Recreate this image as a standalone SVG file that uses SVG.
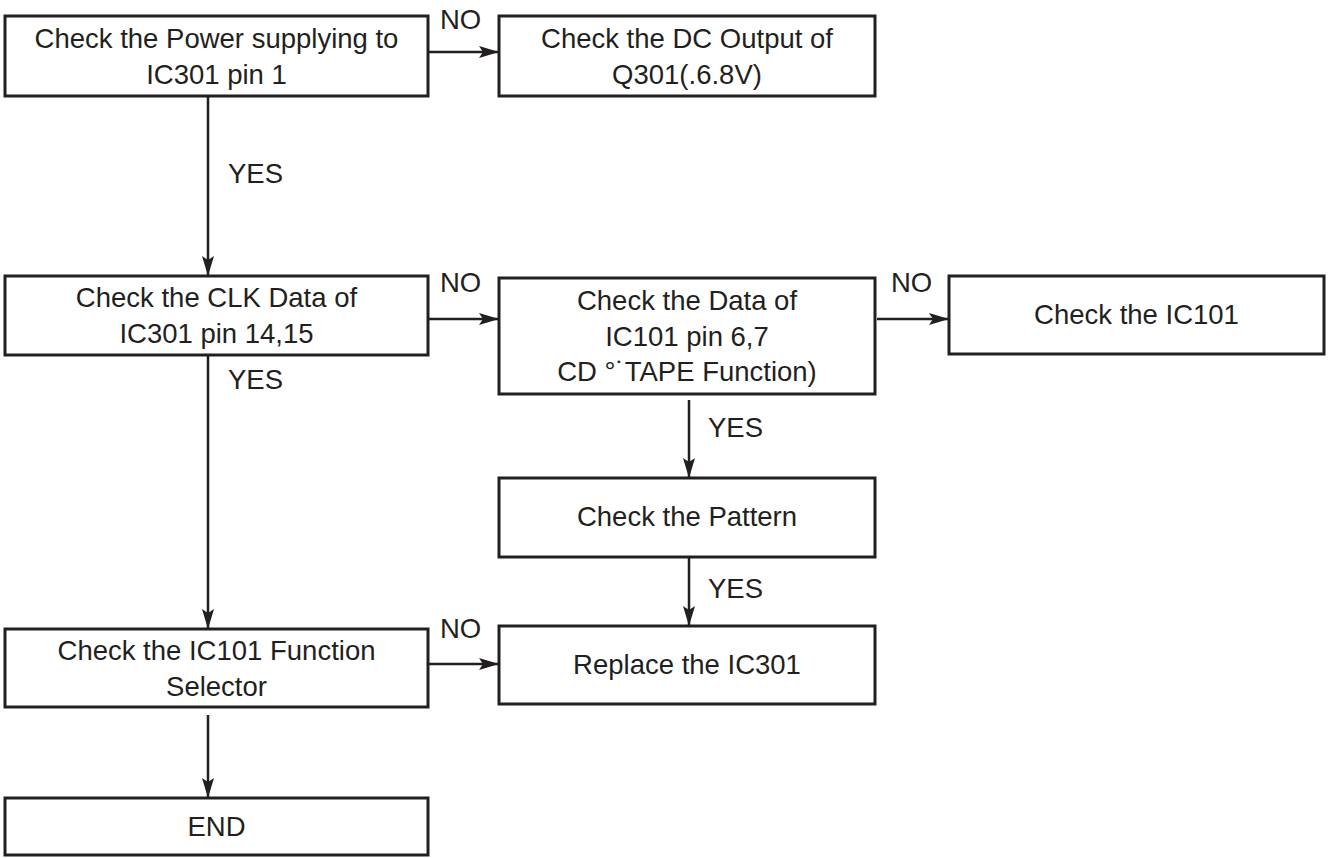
<svg xmlns="http://www.w3.org/2000/svg" width="1328" height="858" viewBox="0 0 1328 858">
<style>
.box{fill:#fff;stroke:#231f20;stroke-width:3}
.t{font-family:"Liberation Sans",Arial,sans-serif;font-size:27.5px;fill:#231f20;text-anchor:middle}
.l{font-family:"Liberation Sans",Arial,sans-serif;font-size:27.5px;fill:#231f20}
.c{stroke:#231f20;stroke-width:2.5;fill:none;marker-end:url(#ah)}
</style>
<defs>
<marker id="ah" viewBox="0 0 20 12" refX="20" refY="6" markerWidth="20" markerHeight="12" markerUnits="userSpaceOnUse" orient="auto">
<path d="M0,0 L20,6 L0,12 L4,6 Z" fill="#231f20"/>
</marker>
</defs>
<rect width="1328" height="858" fill="#fff"/>
<g id="connectors">
<line class="c" x1="428" y1="52" x2="499" y2="52"/>
<line class="c" x1="208" y1="97" x2="208" y2="276"/>
<line class="c" x1="428" y1="319" x2="499" y2="319"/>
<line class="c" x1="877" y1="319" x2="949" y2="319"/>
<line class="c" x1="208" y1="356" x2="208" y2="629"/>
<line class="c" x1="689" y1="400" x2="689" y2="478"/>
<line class="c" x1="689" y1="557" x2="689" y2="626"/>
<line class="c" x1="428" y1="664" x2="499" y2="664"/>
<line class="c" x1="208" y1="715" x2="208" y2="798"/>
<text class="l" x="440" y="29">NO</text>
<text class="l" x="228" y="183">YES</text>
<text class="l" x="440" y="292">NO</text>
<text class="l" x="891" y="292">NO</text>
<text class="l" x="228" y="389">YES</text>
<text class="l" x="708" y="437">YES</text>
<text class="l" x="708" y="598">YES</text>
<text class="l" x="440" y="638">NO</text>
</g>
<g id="n1">
<rect class="box" x="5" y="16" width="423" height="80"/>
<text class="t" x="216.5" y="48">Check the Power supplying to</text>
<text class="t" x="216.5" y="84">IC301 pin 1</text>
</g>
<g id="n2">
<rect class="box" x="499" y="16" width="376" height="80"/>
<text class="t" x="687" y="48">Check the DC Output of</text>
<text class="t" x="687" y="84">Q301(.6.8V)</text>
</g>
<g id="n3">
<rect class="box" x="5" y="276" width="423" height="79"/>
<text class="t" x="216.5" y="307">Check the CLK Data of</text>
<text class="t" x="216.5" y="343">IC301 pin 14,15</text>
</g>
<g id="n4">
<rect class="box" x="499" y="278" width="376" height="116"/>
<text class="t" x="687" y="310">Check the Data of</text>
<text class="t" x="687" y="346">IC101 pin 6,7</text>
<text class="t" x="687" y="381">CD °˙TAPE Function)</text>
</g>
<g id="n5">
<rect class="box" x="949" y="276" width="375" height="78"/>
<text class="t" x="1136.5" y="324">Check the IC101</text>
</g>
<g id="n6">
<rect class="box" x="499" y="478" width="376" height="79"/>
<text class="t" x="687" y="526">Check the Pattern</text>
</g>
<g id="n7">
<rect class="box" x="5" y="629" width="423" height="78"/>
<text class="t" x="216.5" y="660">Check the IC101 Function</text>
<text class="t" x="216.5" y="696">Selector</text>
</g>
<g id="n8">
<rect class="box" x="499" y="626" width="376" height="78"/>
<text class="t" x="687" y="674">Replace the IC301</text>
</g>
<g id="n9">
<rect class="box" x="5" y="798" width="423" height="57"/>
<text class="t" x="216.5" y="836">END</text>
</g>
</svg>
